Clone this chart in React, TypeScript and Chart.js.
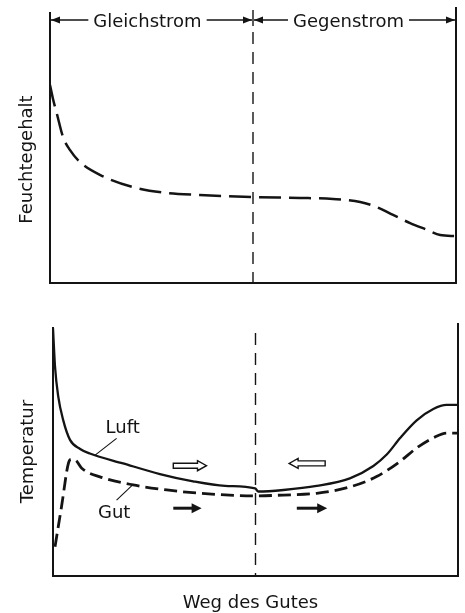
import React, { useEffect, useRef } from "react";
import { Chart, registerables } from "chart.js";

Chart.register(...registerables);

// ---- Data (x = position along the dryer, 0..100; y = relative units 0..100) ----
const dividerX = 50;

const moistureX = [0, 0.8, 1.65, 3.2, 4.9, 7.4, 12.3, 20.4, 28.8, 36.9, 50, 61.6, 69.7, 76.4, 80.5, 84.5, 88.7, 92.9, 96.1, 100];
const moistureY = [73.1, 67.5, 62.7, 53.9, 49.1, 44.6, 39.9, 35.4, 33.2, 32.5, 31.7, 31.4, 31.0, 29.9, 28.0, 25.1, 22.1, 19.6, 17.7, 17.3];

const airX = [0, 0.5, 1.3, 2.5, 4.2, 6.7, 9.1, 17.3, 26.4, 34.6, 42.5, 49.9, 50.7, 56.9, 65.1, 73.3, 79.1, 82.4, 85.7, 89.8, 93.9, 97.2, 100];
const airY = [97.9, 82.7, 70.9, 61.7, 53.8, 50.2, 48.4, 44.5, 40.3, 37.4, 35.6, 34.6, 33.4, 34.0, 35.6, 38.6, 43.5, 48.0, 54.5, 61.5, 66.0, 67.6, 67.6];

const goodsX = [0.5, 2.1, 3.8, 4.6, 5.7, 7.1, 11.6, 19.8, 28.1, 36.3, 49.9, 56.9, 65.1, 73.3, 79.9, 85.7, 89.8, 93.9, 97.2, 100];
const goodsY = [11.6, 27.4, 44.5, 46.1, 45.6, 42.6, 39.2, 36.0, 34.0, 32.7, 31.7, 32.0, 32.7, 35.2, 39.3, 45.3, 50.6, 54.6, 56.5, 56.5];

// Section labels (top dimension line)
const sectionLabels = ["Gleichstrom", "Gegenstrom"];
const sectionShift = [-4, -6];

// Axis titles
const topYTitle = "Feuchtegehalt";
const bottomYTitle = "Temperatur";
const xTitle = "Weg des Gutes";

// Curve labels with leader lines
const curveLabels = ["Luft", "Gut"];
const curveLabelX = [17.2, 15.1];
const curveLabelY = [56.5, 22.9];
const leaderFromX = [15.7, 19.8];
const leaderFromY = [54.4, 36.2];
const leaderToX = [10.4, 15.7];
const leaderToY = [47.8, 30.0];

// Flow arrows: air (hollow), goods (filled)
const airArrowFrom = [29.7, 67.2];
const airArrowTo = [37.9, 58.3];
const airArrowY = [43.6, 44.5];
const goodsArrowFrom = [29.7, 60.2];
const goodsArrowTo = [36.7, 67.7];
const goodsArrowY = [26.8, 26.8];

const INK = "#141414";
const FONT = "18px 'DejaVu Sans'";

function pts(xs: number[], ys: number[]) {
  return xs.map((x, i) => ({ x, y: ys[i] }));
}

function head(ctx: CanvasRenderingContext2D, x: number, y: number, dir: number, len: number, half: number) {
  ctx.beginPath();
  ctx.moveTo(x, y);
  ctx.lineTo(x - dir * len, y - half);
  ctx.lineTo(x - dir * len, y + half);
  ctx.closePath();
  ctx.fill();
}

const topPlugin = {
  id: "topDeco",
  afterDraw(chart: any) {
    const { ctx, chartArea: a, scales } = chart;
    const mx = scales.x.getPixelForValue(dividerX);
    ctx.save();
    ctx.strokeStyle = INK;
    ctx.fillStyle = INK;
    ctx.lineWidth = 2;
    ctx.beginPath();
    ctx.moveTo(a.left, a.top);
    ctx.lineTo(a.left, a.bottom);
    ctx.lineTo(a.right, a.bottom);
    ctx.lineTo(a.right, a.top - 5);
    ctx.stroke();

    // divider
    ctx.lineWidth = 1.4;
    ctx.beginPath();
    ctx.moveTo(mx, a.top - 2);
    ctx.lineTo(mx, a.top + 14);
    ctx.stroke();
    ctx.setLineDash([12, 8]);
    ctx.beginPath();
    ctx.moveTo(mx, a.top + 20);
    ctx.lineTo(mx, a.bottom);
    ctx.stroke();
    ctx.setLineDash([]);

    // dimension lines
    const dy = a.top + 8;
    ctx.font = FONT;
    ctx.textAlign = "center";
    ctx.textBaseline = "alphabetic";
    const segs = [
      [a.left, mx],
      [mx, a.right],
    ];
    segs.forEach(([x0, x1], i) => {
      const label = sectionLabels[i];
      const w = ctx.measureText(label).width;
      const c = (x0 + x1) / 2 + sectionShift[i];
      ctx.lineWidth = 1.4;
      ctx.beginPath();
      ctx.moveTo(x0 + 1, dy);
      ctx.lineTo(c - w / 2 - 5, dy);
      ctx.moveTo(c + w / 2 + 5, dy);
      ctx.lineTo(x1 - 1, dy);
      ctx.stroke();
      head(ctx, x0 + 1, dy, -1, 9, 3.5);
      head(ctx, x1 - 1, dy, 1, 9, 3.5);
      ctx.fillText(label, c, dy + 7);
    });

    // y title
    ctx.translate(32, (a.top + a.bottom) / 2 + 12);
    ctx.rotate(-Math.PI / 2);
    ctx.fillText(topYTitle, 0, 0);
    ctx.restore();
  },
};

const bottomPlugin = {
  id: "bottomDeco",
  afterDraw(chart: any) {
    const { ctx, chartArea: a, scales } = chart;
    const sx = scales.x;
    const sy = scales.y;
    const mx = sx.getPixelForValue(dividerX);
    ctx.save();
    ctx.strokeStyle = INK;
    ctx.fillStyle = INK;
    ctx.lineWidth = 2;
    ctx.beginPath();
    ctx.moveTo(a.left, a.top + 4);
    ctx.lineTo(a.left, a.bottom);
    ctx.lineTo(a.right, a.bottom);
    ctx.lineTo(a.right, a.top);
    ctx.stroke();

    // divider
    ctx.lineWidth = 1.4;
    ctx.setLineDash([12, 8]);
    ctx.beginPath();
    ctx.moveTo(mx, a.top + 10);
    ctx.lineTo(mx, a.bottom);
    ctx.stroke();
    ctx.setLineDash([]);

    // curve labels & leaders
    ctx.font = FONT;
    ctx.textAlign = "center";
    ctx.textBaseline = "alphabetic";
    curveLabels.forEach((t, i) => {
      ctx.fillText(t, sx.getPixelForValue(curveLabelX[i]), sy.getPixelForValue(curveLabelY[i]));
      ctx.lineWidth = 1.1;
      ctx.beginPath();
      ctx.moveTo(sx.getPixelForValue(leaderFromX[i]), sy.getPixelForValue(leaderFromY[i]));
      ctx.lineTo(sx.getPixelForValue(leaderToX[i]), sy.getPixelForValue(leaderToY[i]));
      ctx.stroke();
    });

    // hollow air arrows
    airArrowFrom.forEach((f, i) => {
      const x0 = sx.getPixelForValue(f);
      const x1 = sx.getPixelForValue(airArrowTo[i]);
      const y = sy.getPixelForValue(airArrowY[i]);
      const dir = x1 > x0 ? 1 : -1;
      const hl = 9;
      const xb = x1 - dir * hl;
      ctx.lineWidth = 1.4;
      ctx.fillStyle = "#fff";
      ctx.beginPath();
      ctx.moveTo(x0, y - 2.5);
      ctx.lineTo(xb, y - 2.5);
      ctx.lineTo(xb, y - 5);
      ctx.lineTo(x1, y);
      ctx.lineTo(xb, y + 5);
      ctx.lineTo(xb, y + 2.5);
      ctx.lineTo(x0, y + 2.5);
      ctx.closePath();
      ctx.fill();
      ctx.stroke();
    });

    // filled goods arrows
    ctx.fillStyle = INK;
    goodsArrowFrom.forEach((f, i) => {
      const x0 = sx.getPixelForValue(f);
      const x1 = sx.getPixelForValue(goodsArrowTo[i]);
      const y = sy.getPixelForValue(goodsArrowY[i]);
      const dir = x1 > x0 ? 1 : -1;
      ctx.lineWidth = 3;
      ctx.beginPath();
      ctx.moveTo(x0, y);
      ctx.lineTo(x1 - dir * 8, y);
      ctx.stroke();
      head(ctx, x1, y, dir, 10, 5);
    });

    // titles
    ctx.fillStyle = INK;
    ctx.fillText(xTitle, (a.left + a.right) / 2 - 5, a.bottom + 32);
    ctx.translate(33, (a.top + a.bottom) / 2 + 2);
    ctx.rotate(-Math.PI / 2);
    ctx.fillText(bottomYTitle, 0, 0);
    ctx.restore();
  },
};

function baseOptions(padding: any) {
  return {
    responsive: false,
    animation: false as const,
    layout: { padding },
    plugins: { legend: { display: false }, tooltip: { enabled: false } },
    scales: {
      x: { type: "linear" as const, min: 0, max: 100, display: false },
      y: { type: "linear" as const, min: 0, max: 100, display: false },
    },
    elements: { point: { radius: 0 } },
  };
}

export default function App() {
  const topRef = useRef<HTMLCanvasElement>(null);
  const botRef = useRef<HTMLCanvasElement>(null);

  useEffect(() => {
    const top = new Chart(topRef.current as HTMLCanvasElement, {
      type: "line",
      data: {
        datasets: [
          {
            data: pts(moistureX, moistureY),
            borderColor: INK,
            borderWidth: 2.5,
            borderDash: [22, 8],
            cubicInterpolationMode: "monotone",
            fill: false,
            pointRadius: 0,
          },
        ],
      },
      options: baseOptions({ left: 50, right: 9, top: 12, bottom: 17 }) as any,
      plugins: [topPlugin],
    });
    const bottom = new Chart(botRef.current as HTMLCanvasElement, {
      type: "line",
      data: {
        datasets: [
          {
            data: pts(airX, airY),
            borderColor: INK,
            borderWidth: 2.3,
            cubicInterpolationMode: "monotone",
            fill: false,
            pointRadius: 0,
          },
          {
            data: pts(goodsX, goodsY),
            borderColor: INK,
            borderWidth: 2.8,
            borderDash: [13, 6],
            cubicInterpolationMode: "monotone",
            fill: false,
            pointRadius: 0,
          },
        ],
      },
      options: baseOptions({ left: 53, right: 7, top: 23, bottom: 37 }) as any,
      plugins: [bottomPlugin],
    });
    return () => {
      top.destroy();
      bottom.destroy();
    };
  }, []);

  return (
    <div style={{ position: "absolute", left: 0, top: 0, width: 465, height: 613, background: "#fff", overflow: "hidden" }}>
      <canvas ref={topRef} width={465} height={300} style={{ position: "absolute", left: 0, top: 0, width: 465, height: 300 }} />
      <canvas ref={botRef} width={465} height={313} style={{ position: "absolute", left: 0, top: 300, width: 465, height: 313 }} />
    </div>
  );
}
